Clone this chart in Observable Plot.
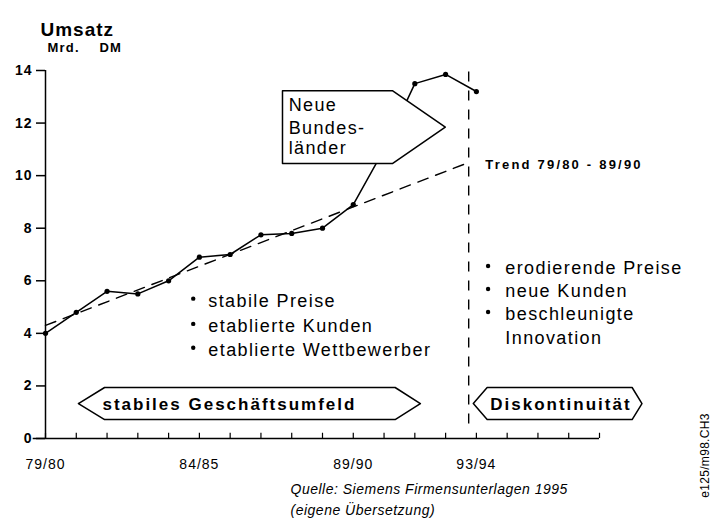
<!DOCTYPE html>
<html>
<head>
<meta charset="utf-8">
<script src="https://cdn.jsdelivr.net/npm/d3@7"></script>
<script src="https://cdn.jsdelivr.net/npm/@observablehq/plot@0.6"></script>
<style>
  body { margin: 0; background: white; }
  #chart svg { display: block; }
</style>
</head>
<body>
<div id="chart"></div>
<script>
// ---- data ----
const years = ["79/80","80/81","81/82","82/83","83/84","84/85","85/86","86/87","87/88","88/89","89/90","90/91","91/92","92/93","93/94"];
const umsatz = [4.0, 4.8, 5.6, 5.5, 6.0, 6.9, 7.0, 7.75, 7.8, 8.0, 8.9, 11.0, 13.5, 13.85, 13.2];
const yTicks = [0, 2, 4, 6, 8, 10, 12, 14];
const xTickLabels = ["79/80", "84/85", "89/90", "93/94"];
const xTickIndex = [0, 5, 10, 14];
const trendIndex = [0, 13.75];
const trendValue = [4.3, 10.5];
const bruchIndex = 13.75;            // Diskontinuität (dashed vertical)
const bulletsLeft = ["stabile Preise", "etablierte Kunden", "etablierte Wettbewerber"];
const bulletsRight = ["erodierende Preise", "neue Kunden", "beschleunigte", "Innovation"];
const neueLines = ["Neue", "Bundes-", "länder"];
const titleText = "Umsatz";
const unitTexts = ["Mrd.", "DM"];
const trendLabel = "Trend 79/80 - 89/90";
const boxLabels = ["stabiles Geschäftsumfeld", "Diskontinuität"];
const captionLines = ["Quelle: Siemens Firmensunterlagen 1995", "(eigene Übersetzung)"];
const codeText = "e125/m98.CH3";

// annotation shapes in data units (index, value)
const neueBox = [[7.7,13.23],[11.27,13.23],[12.99,11.85],[11.27,10.46],[7.7,10.46],[7.7,13.23]];
const stabilBox = [[1.07,1.33],[1.92,1.94],[11.36,1.94],[12.18,1.33],[11.36,0.72],[1.92,0.72],[1.07,1.33]];
const diskBox = [[13.9,1.33],[14.35,1.94],[19.06,1.94],[19.38,1.33],[19.06,0.72],[14.35,0.72],[13.9,1.33]];

const series = years.map((y, i) => ({i, year: y, v: umsatz[i]}));
const trend = trendIndex.map((x, k) => ({x, y: trendValue[k]}));
const allIdx = d3.range(0, 19);

const leftY = [5.22, 4.26, 3.35];
const rightY = [6.46, 5.59, 4.71, 3.8];
const neueY = [12.66, 11.8, 11.06];

const plot = Plot.plot({
  width: 712,
  height: 524,
  marginLeft: 45,
  marginRight: 113,
  marginTop: 70,
  marginBottom: 86,
  style: {fontFamily: "'Liberation Sans', Arial, sans-serif", background: "white", color: "black"},
  x: {domain: [0, 18], axis: null},
  y: {domain: [0, 14], axis: null},
  marks: [
    // axes
    Plot.ruleX([0], {y1: 0, y2: 14, strokeWidth: 1.5}),
    Plot.ruleY([0], {x1: -0.4, x2: 18, strokeWidth: 1.5}),
    Plot.ruleX(allIdx, {x: d => d, y1: 0, y2: 0.2, strokeWidth: 1.2}),
    Plot.axisY({ticks: yTicks, tickSize: 9, tickPadding: 4, fontSize: 14, fontWeight: "bold", strokeWidth: 1.5, label: null}),
    Plot.axisX({ticks: xTickIndex, tickSize: 0, tickPadding: 21, fontSize: 14, tickFormat: (d) => xTickLabels[xTickIndex.indexOf(d)], label: null}),

    // trend and break line
    Plot.line(trend, {x: "x", y: "y", stroke: "black", strokeWidth: 1.4, strokeDasharray: "11,8"}),
    Plot.ruleX([bruchIndex], {y1: 0.55, y2: 13.95, stroke: "black", strokeWidth: 1.4, strokeDasharray: "10,9"}),

    // data line
    Plot.line(series, {x: "i", y: "v", stroke: "black", strokeWidth: 1.5}),
    Plot.dot(series, {x: "i", y: "v", r: 2.6, fill: "black"}),

    // boxes
    Plot.line(neueBox, {x: d => d[0], y: d => d[1], fill: "white", stroke: "black", strokeWidth: 1.5}),
    Plot.line(stabilBox, {x: d => d[0], y: d => d[1], fill: "white", stroke: "black", strokeWidth: 1.5}),
    Plot.line(diskBox, {x: d => d[0], y: d => d[1], fill: "white", stroke: "black", strokeWidth: 1.5}),

    // box texts
    Plot.text(neueLines, {x: 7.9, y: (d, k) => neueY[k], text: d => d, textAnchor: "start", fontSize: 18}),
    Plot.text([boxLabels[0]], {x: 1.85, y: 1.3, text: d => d, textAnchor: "start", fontSize: 17, fontWeight: "bold"}),
    Plot.text([boxLabels[1]], {x: 14.45, y: 1.3, text: d => d, textAnchor: "start", fontSize: 17, fontWeight: "bold"}),

    // trend label
    Plot.text([trendLabel], {x: 14.29, y: 10.42, text: d => d, textAnchor: "start", fontSize: 13, fontWeight: "bold"}),

    // bullet lists
    Plot.dot(bulletsLeft, {x: 4.8, y: (d, k) => leftY[k] + 0.1, r: 2.2, fill: "black"}),
    Plot.text(bulletsLeft, {x: 5.29, y: (d, k) => leftY[k], text: d => d, textAnchor: "start", fontSize: 18}),
    Plot.dot(bulletsRight.slice(0, 3), {x: 14.38, y: (d, k) => rightY[k] + 0.1, r: 2.2, fill: "black"}),
    Plot.text(bulletsRight, {x: 14.94, y: (d, k) => rightY[k], text: d => d, textAnchor: "start", fontSize: 18}),

    // titles
    Plot.text([titleText], {frameAnchor: "top-left", dx: -5, dy: -48, text: d => d, textAnchor: "start", fontSize: 19, fontWeight: "bold"}),
    Plot.text([unitTexts[0]], {frameAnchor: "top-left", dx: 2, dy: -28, text: d => d, textAnchor: "start", fontSize: 13, fontWeight: "bold"}),
    Plot.text([unitTexts[1]], {frameAnchor: "top-left", dx: 54, dy: -28, text: d => d, textAnchor: "start", fontSize: 13, fontWeight: "bold"}),

    // caption
    Plot.text([captionLines[0]], {frameAnchor: "bottom-left", dx: 245, dy: 55, text: d => d, textAnchor: "start", fontSize: 14, fontStyle: "italic"}),
    Plot.text([captionLines[1]], {frameAnchor: "bottom-left", dx: 245, dy: 76, text: d => d, textAnchor: "start", fontSize: 14, fontStyle: "italic"}),
    Plot.text([codeText], {frameAnchor: "bottom-right", dx: 106, dy: 17, rotate: -90, textAnchor: "middle", lineAnchor: "middle", text: d => d, fontSize: 12})
  ]
});

// letter spacing to mimic the wide spacing of the scanned original
const spacingFor = (s) => {
  if (neueLines.includes(s) || bulletsLeft.includes(s) || bulletsRight.includes(s)) return "1.4px";
  if (boxLabels.includes(s)) return "2px";
  if (s === trendLabel) return "2.2px";
  if (s === titleText) return "1px";
  if (unitTexts.includes(s)) return "1.2px";
  if (captionLines.includes(s)) return "0.5px";
  if (s === codeText) return "0.3px";
  return "1px";
};
plot.querySelectorAll("text").forEach(t => { t.style.letterSpacing = spacingFor(t.textContent); });
document.getElementById("chart").append(plot);
</script>
</body>
</html>
